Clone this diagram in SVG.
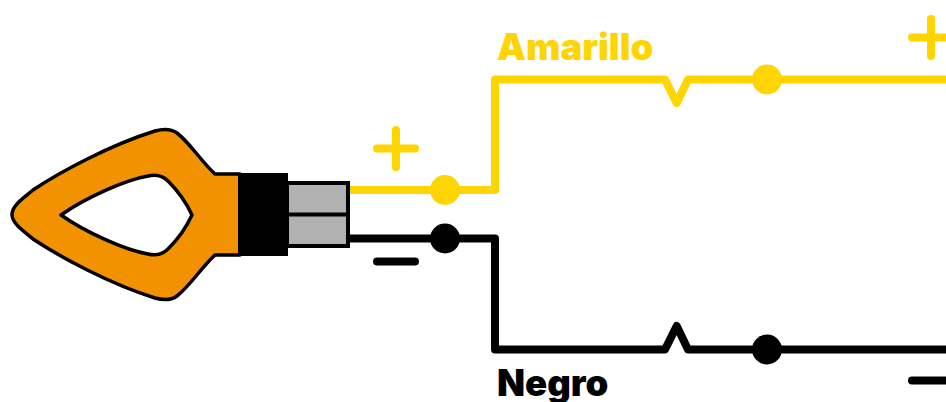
<svg xmlns="http://www.w3.org/2000/svg" width="946" height="402" viewBox="0 0 946 402">
<style>
.w{fill:none;stroke-width:8;stroke-linejoin:round;stroke-linecap:round}
.y{stroke:#ffd500}.k{stroke:#000}
.t{font-family:Inter,Lato,"Liberation Sans",sans-serif;font-weight:900;font-size:36.500px}
.o{stroke:#000;stroke-width:3.500;stroke-linejoin:round}
</style>
<rect width="946" height="402" fill="#fff"/>
<g id="connectors">
<path class="w y" d="M349 190H495V79.500H665L676.700 103L688 79.500H950"/>
<path class="w k" d="M349 238.500H495V349.500H665L676.700 326L688 349.500H950"/>
</g>
<g id="lamp">
<path class="o" d="M215 174H240V255H215C200 269 190 286 177 296C170 301 162 300 155 298C110 284 60 257 33 239C25 232 12 224 12 214.500C12 205 25 197 33 190C60 172 110 145 155 131C162 129 170 128 177 133C190 143 200 160 215 174Z" fill="#f39200"/>
<path class="o" d="M61 215C85 198 125 180 148 176C156 174 162 175 168 181C178 191 187 204 192 215C187 226 178 239 168 249C162 255 156 256 148 254C125 250 85 232 61 215Z" fill="#fff"/>
</g>
<g id="connector-body">
<rect x="238" y="173" width="50" height="83" fill="#000"/>
<rect x="287" y="183" width="61" height="63" fill="#b1b1b1" stroke="#000" stroke-width="4"/>
<path d="M287 214.500H348" stroke="#000" stroke-width="4"/>
</g>
<g id="dots">
<circle cx="445" cy="190" r="15" fill="#ffd500"/>
<circle cx="445" cy="238.500" r="15" fill="#000"/>
<circle cx="767" cy="79.500" r="15" fill="#ffd500"/>
<circle cx="767" cy="349.500" r="15" fill="#000"/>
</g>
<g id="signs">
<path class="w y" d="M377 148.500H415M396 130V167"/>
<path class="w k" d="M377 261.500H415"/>
<path class="w y" d="M912 37.500H950M931 19V56"/>
<path class="w k" d="M912 380.500H950"/>
</g>
<text class="t" x="497" y="60" fill="#ffd500">Amarillo</text>
<text class="t" x="497" y="396" fill="#000">Negro</text>
</svg>
